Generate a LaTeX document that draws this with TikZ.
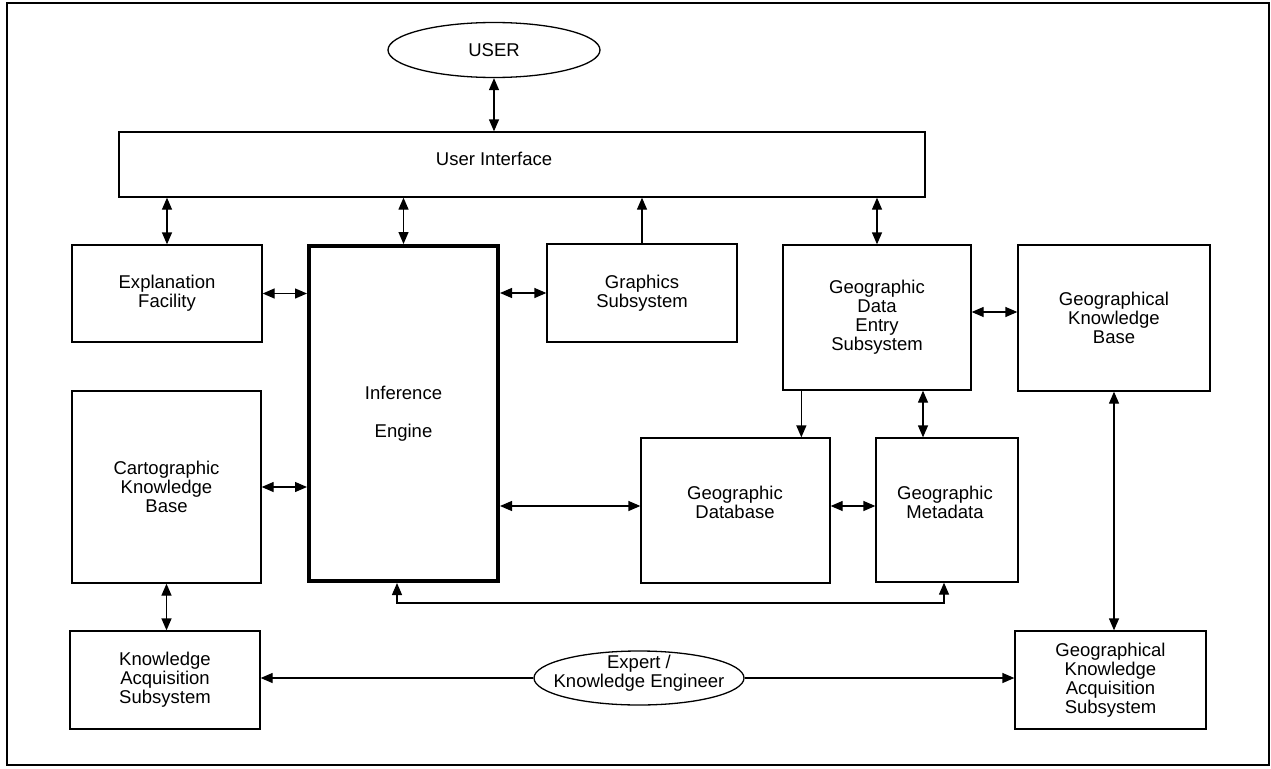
\documentclass[tikz,border=0pt]{standalone}
\usepackage{fontspec}
\setmainfont{Liberation Sans}
\usetikzlibrary{arrows.meta,shapes.geometric,calc}
\begin{document}
\begin{tikzpicture}[x=1pt,y=-1pt,
  every node/.style={font=\fontsize{18.5}{19}\selectfont, align=center, inner sep=0pt},
  box/.style={draw, line width=1.3pt, rectangle},
  ell/.style={draw, line width=1.3pt, ellipse},
  conn/.style={line width=1.3pt},
  >={Triangle[length=12pt,width=10pt]}]
\useasboundingbox (0,0) rectangle (1271,768);
\draw[line width=1.4pt] (7,3) rectangle (1269,765);

% nodes
\node[ell, minimum width=212pt, minimum height=55pt] (user) at (494,50) {USER};
\node[box, minimum width=806pt, minimum height=65pt] (ui) at (522,164.5) {};
\node (uitext) at (494,158.5) {User Interface};
\node[box, minimum width=190pt, minimum height=97pt] (expl) at (167,293.5) {Explanation\\Facility};
\node[box, line width=4pt, minimum width=189pt, minimum height=335pt] (inf) at (403.5,413.5) {Inference\\[19pt]Engine};
\node[box, minimum width=190pt, minimum height=98pt] (graph) at (642,293) {Graphics\\Subsystem};
\node[box, minimum width=188pt, minimum height=145pt] (gde) at (877,317.5) {Geographic\\Data\\Entry\\Subsystem};
\node[box, minimum width=192pt, minimum height=146pt] (gkb) at (1114,318) {Geographical\\Knowledge\\Base};
\node[box, minimum width=189pt, minimum height=192pt] (cart) at (166.5,487) {Cartographic\\Knowledge\\Base};
\node[box, minimum width=189pt, minimum height=145pt] (geodb) at (735.5,510.5) {};
\node (geodbtext) at (735,502) {Geographic\\Database};
\node[box, minimum width=142pt, minimum height=144pt] (meta) at (947,510) {};
\node (metatext) at (945,502) {Geographic\\Metadata};
\node[box, minimum width=190pt, minimum height=98pt] (ka) at (165,680) {Knowledge\\Acquisition\\Subsystem};
\node[box, minimum width=191pt, minimum height=98pt] (gkas) at (1110.5,680) {Geographical\\Knowledge\\Acquisition\\Subsystem};
\node[ell, minimum width=210pt, minimum height=54pt] (expert) at (639,678) {};
\node (experttext) at (639,673) {Expert /\\Knowledge Engineer};

% helper coordinates
\coordinate (dbw) at ($(geodb.west)+(0,-4.5)$);
\coordinate (gdee) at ($(gde.east)+(0,-5.5)$);
\coordinate (gdes) at ($(gde.south west)+(19,0)$);
\coordinate (mn) at ($(meta.north)+(-24,0)$);
\coordinate (fb1) at ($(inf.south)+(-6.5,0)$);
\coordinate (fb2) at ($(meta.south)+(-3,0)$);

% connectors
\draw[conn,<->] (user.south) -- (user.south |- ui.north);
\draw[conn,<->] (ui.south -| expl.north) -- (expl.north);
\draw[conn,<->] (ui.south -| inf.north) -- (inf.north);
\draw[conn,->] (graph.north) -- (graph.north |- ui.south);
\draw[conn,<->] (ui.south -| gde.north) -- (gde.north);
\draw[conn,<->] (expl.east) -- (expl.east -| inf.west);
\draw[conn,<->] (inf.east |- graph.west) -- (graph.west);
\draw[conn,<->] (cart.east) -- (cart.east -| inf.west);
\draw[conn,<->] (dbw -| inf.east) -- (dbw);
\draw[conn,<->] (geodb.east |- dbw) -- (meta.west |- dbw);
\draw[conn,<->] (gdee) -- (gdee -| gkb.west);
\draw[conn,->] (gdes) -- (gdes |- geodb.north);
\draw[conn,<->] (mn |- gde.south) -- (mn);
\draw[conn,<->] (gkb.south) -- (gkb.south |- gkas.north);
\draw[conn,<->] (cart.south) -- (cart.south |- ka.north);
\draw[conn,->] (expert.west) -- (expert.west -| ka.east);
\draw[conn,->] (expert.east) -- (expert.east -| gkas.west);
\draw[conn,<->] (fb1) -- ++(0,20) -| (fb2);
\end{tikzpicture}
\end{document}
